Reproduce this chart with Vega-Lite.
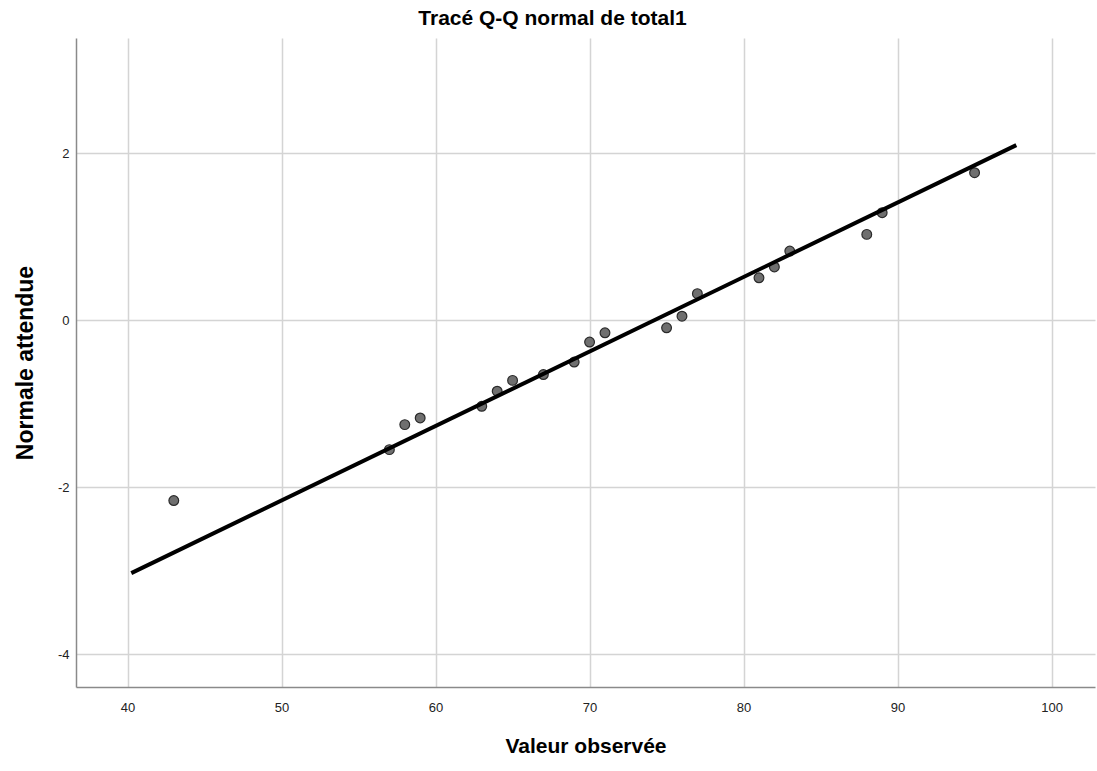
{
  "$schema": "https://vega.github.io/schema/vega-lite/v6.json",
  "autosize": "none",
  "width": 1019,
  "height": 649,
  "padding": {"left": 76, "top": 38, "right": 2, "bottom": 84},
  "background": "white",
  "title": {
    "text": "Tracé Q-Q normal de total1",
    "font": "Liberation Sans",
    "fontSize": 21,
    "fontWeight": "bold",
    "color": "#000000",
    "anchor": "middle",
    "frame": "group",
    "dx": -33,
    "offset": 9
  },
  "config": {
    "view": {"stroke": null},
    "font": "Liberation Sans"
  },
  "datasets": {
    "points": [
      {"observed": 43, "expected": -2.16},
      {"observed": 57, "expected": -1.55},
      {"observed": 58, "expected": -1.25},
      {"observed": 59, "expected": -1.17},
      {"observed": 63, "expected": -1.03},
      {"observed": 64, "expected": -0.85},
      {"observed": 65, "expected": -0.72},
      {"observed": 67, "expected": -0.65},
      {"observed": 69, "expected": -0.50},
      {"observed": 70, "expected": -0.26},
      {"observed": 71, "expected": -0.15},
      {"observed": 75, "expected": -0.09},
      {"observed": 76, "expected": 0.05},
      {"observed": 77, "expected": 0.32},
      {"observed": 81, "expected": 0.51},
      {"observed": 82, "expected": 0.64},
      {"observed": 83, "expected": 0.83},
      {"observed": 88, "expected": 1.03},
      {"observed": 89, "expected": 1.29},
      {"observed": 95, "expected": 1.77}
    ],
    "line": [
      {"observed": 40.24, "expected": -3.03},
      {"observed": 97.71, "expected": 2.10}
    ]
  },
  "layer": [
    {
      "data": {"name": "points"},
      "mark": {"type": "point", "shape": "circle", "filled": true, "size": 95, "fill": "#6f6f6f", "stroke": "#2a2a2a", "strokeWidth": 1.2, "opacity": 1},
      "encoding": {
        "x": {
          "field": "observed", "type": "quantitative",
          "scale": {"domain": [36.65, 102.82], "nice": false, "zero": false},
          "axis": {
            "title": "Valeur observée",
            "titleFont": "Liberation Sans",
            "titleFontSize": 21,
            "titleFontWeight": "bold",
            "titleColor": "#000000",
            "titlePadding": 21,
            "values": [40, 50, 60, 70, 80, 90, 100],
            "format": "d",
            "labelFont": "Liberation Sans",
            "labelFontSize": 13,
            "labelColor": "#222222",
            "labelPadding": 14,
            "ticks": false,
            "domainColor": "#8a8a8a",
            "domainWidth": 1.5,
            "grid": true,
            "gridColor": "#d4d4d4",
            "gridWidth": 1.5
          }
        },
        "y": {
          "field": "expected", "type": "quantitative",
          "scale": {"domain": [-4.395, 3.384], "nice": false, "zero": false},
          "axis": {
            "title": "Normale attendue",
            "titleFont": "Liberation Sans",
            "titleFontSize": 23,
            "titleFontWeight": "bold",
            "titleColor": "#000000",
            "titlePadding": 20,
            "values": [-4, -2, 0, 2],
            "labelExpr": "datum.value < 0 ? '-' + abs(datum.value) : '' + datum.value",
            "labelFont": "Liberation Sans",
            "labelFontSize": 13,
            "labelColor": "#222222",
            "labelPadding": 7,
            "ticks": false,
            "domainColor": "#8a8a8a",
            "domainWidth": 1.5,
            "grid": true,
            "gridColor": "#d4d4d4",
            "gridWidth": 1.5
          }
        }
      }
    },
    {
      "data": {"name": "line"},
      "mark": {"type": "line", "color": "#000000", "strokeWidth": 4, "clip": true},
      "encoding": {
        "x": {"field": "observed", "type": "quantitative"},
        "y": {"field": "expected", "type": "quantitative"}
      }
    }
  ]
}
